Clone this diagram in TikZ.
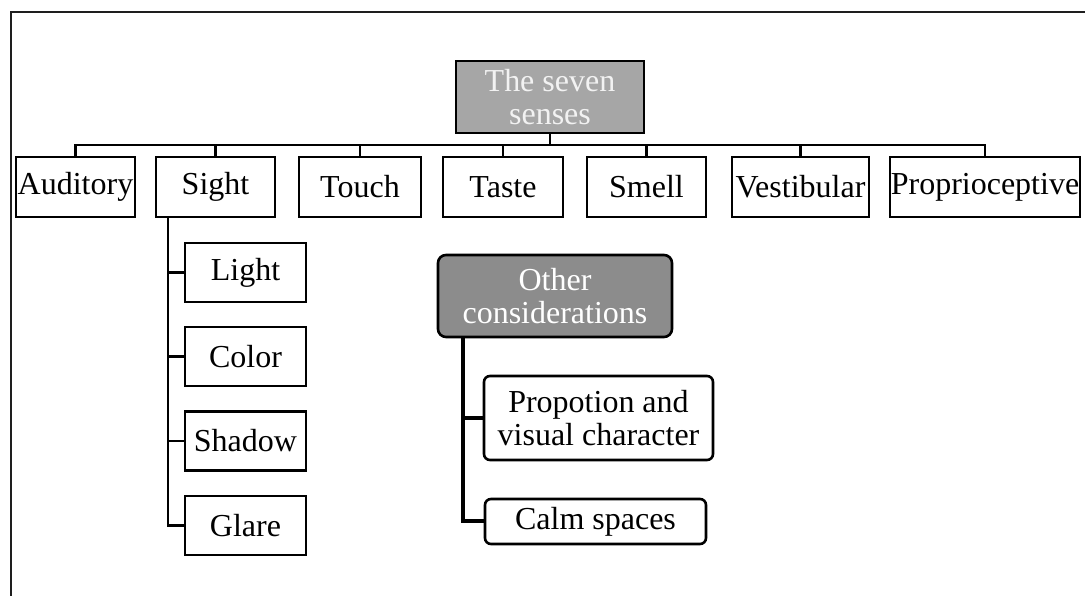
\documentclass[tikz,border=0pt]{standalone}
\usepackage{fontspec}
\setmainfont{Liberation Serif}
\usetikzlibrary{positioning}
\definecolor{rootgray}{RGB}{166, 166, 166}
\definecolor{othergray}{RGB}{140, 140, 140}
\definecolor{palewhite}{RGB}{242, 242, 242}
\definecolor{framegray}{RGB}{30, 30, 30}
\newcommand{\unitpx}{0.3pt}

\begin{document}
\begin{tikzpicture}[
                x=\unitpx, y=-\unitpx,
                font=\fontsize{9.6}{9.8}\selectfont,
                sense/.style={draw, line width=2.6*\unitpx, inner sep=0pt, align=center},
                headbox/.style={sense, fill=rootgray, text=palewhite},
                otherbox/.style={sense, fill=othergray, text=white, rounded corners=8*\unitpx},
                subbox/.style={sense, rounded corners=6*\unitpx},
                link/.style={line width=2.6*\unitpx},
                boldlink/.style={line width=4*\unitpx}
            ]
                \useasboundingbox (0,0) rectangle (1085,596);

                % Marco
                \draw[framegray, line width=2.4*\unitpx] (11,596) -- (11,12) -- (1085,12);

                % Raiz
                \node[headbox, minimum width=188*\unitpx, minimum height=72*\unitpx] (root) at (550,97) {The seven\\senses};

                % Los siete sentidos
                \node[sense, minimum width=119*\unitpx, minimum height=60*\unitpx] (aud) at (75.5,187) {Auditory};
                \node[sense, minimum width=119*\unitpx, minimum height=60*\unitpx] (sight) at (215.5,187) {Sight};
                \node[sense, minimum width=122*\unitpx, minimum height=60*\unitpx] (touch) at (360,187) {Touch};
                \node[sense, minimum width=120*\unitpx, minimum height=60*\unitpx] (taste) at (503,187) {Taste};
                \node[sense, minimum width=119*\unitpx, minimum height=60*\unitpx] (smell) at (646.5,187) {Smell};
                \node[sense, minimum width=137*\unitpx, minimum height=60*\unitpx] (vest) at (800.5,187) {Vestibular};
                \node[sense, minimum width=190*\unitpx, minimum height=60*\unitpx] (prop) at (985,187) {Proprioceptive};

                % Barra de conexion
                \coordinate (bus) at (550,145);
                \draw[link] (root.south) -- (bus);
                \foreach \n in {aud, sight, touch, taste, smell, vest, prop}
                    \draw[link] (bus) -| (\n.north);

                % Hijos de Sight
                \node[sense, minimum width=121*\unitpx, minimum height=59*\unitpx] (light) at (245.5,272.5) {Light};
                \node[sense, minimum width=121*\unitpx, minimum height=59*\unitpx] (color) at (245.5,356.5) {Color};
                \node[sense, minimum width=121*\unitpx, minimum height=59*\unitpx] (shadow) at (245.5,441) {Shadow};
                \node[sense, minimum width=121*\unitpx, minimum height=59*\unitpx] (glare) at (245.5,525.5) {Glare};
                \coordinate (strunk) at (168,217);
                \foreach \n in {light, color, shadow, glare}
                    \draw[link] (strunk) |- (\n.west);

                % Otras consideraciones
                \node[otherbox, minimum width=234*\unitpx, minimum height=82*\unitpx] (other) at (555,296) {Other\\considerations};
                \node[subbox, minimum width=229*\unitpx, minimum height=84*\unitpx] (propvis) at (598.5,418) {Propotion and\\visual character};
                \node[subbox, minimum width=221*\unitpx, minimum height=45*\unitpx] (calm) at (595.5,521.5) {Calm spaces};
                \coordinate (otrunk) at (463,337);
                \draw[boldlink] (otrunk) |- (propvis.west);
                \draw[boldlink] (otrunk) |- (calm.west);
            \end{tikzpicture}
\end{document}
